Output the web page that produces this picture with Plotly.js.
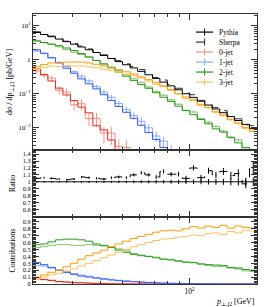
<!DOCTYPE html>
<html><head><meta charset="utf-8">
<script src="https://cdn.plot.ly/plotly-3.0.1.min.js"></script>
<style>html,body{margin:0;padding:0;background:#fff}#chart{width:266px;height:307px}</style>
</head><body><div id="chart"></div>
<script>
// ---- data ----
const binEdges = [20.0, 21.6, 23.3, 25.2, 27.2, 29.4, 31.7, 34.2, 37.0, 39.9, 43.1, 46.5, 50.2, 54.3, 58.6, 63.2, 68.3, 73.7, 79.6, 86.0, 92.8, 100.2, 108.2, 116.9, 126.2, 136.3, 147.1, 158.9, 171.5, 185.2, 200.0];
const pythiaTotal = [6.4, 5.6, 4.8, 4.1, 3.45, 2.9, 2.4, 1.98, 1.65, 1.35, 1.1, 0.89, 0.72, 0.58, 0.46, 0.365, 0.285, 0.222, 0.172, 0.132, 0.101, 0.079, 0.061, 0.047, 0.036, 0.028, 0.0215, 0.0165, 0.0127, 0.0097];
const sherpaOverPythia = [1.05, 1.06, 1.05, 1.04, 1.03, 1.04, 1.07, 1.06, 1.05, 1.04, 1.06, 1.07, 1.06, 1.10, 1.13, 1.10, 1.07, 1.15, 1.11, 1.11, 1.05, 1.20, 1.06, 1.16, 1.10, 1.15, 1.09, 1.12, 0.97, 1.20];
const pythiaRatioErr = [0.01, 0.01, 0.01, 0.01, 0.01, 0.012, 0.012, 0.013, 0.014, 0.015, 0.016, 0.017, 0.018, 0.02, 0.02, 0.022, 0.024, 0.026, 0.028, 0.03, 0.032, 0.034, 0.036, 0.04, 0.042, 0.045, 0.05, 0.055, 0.06, 0.065];
const sherpaRatioErr = [0.012, 0.012, 0.012, 0.012, 0.012, 0.013, 0.014, 0.015, 0.016, 0.017, 0.018, 0.019, 0.02, 0.022, 0.024, 0.025, 0.027, 0.03, 0.032, 0.034, 0.036, 0.038, 0.04, 0.044, 0.047, 0.05, 0.055, 0.06, 0.065, 0.1];
// jet-multiplicity fractions (Contributions panel); A = Pythia, B = Sherpa
const frac0jetA = [0.085, 0.066, 0.05, 0.036, 0.027, 0.022, 0.017, 0.014, 0.007, 0.0065, 0.004, 0.0025, 0.0012, 0.0018, 0.0007, 0.0004, 0, 0, 0, 0, 0, 0, 0, 0, 0, 0, 0, 0, 0, 0];
const frac0jetB = [0.07, 0.06, 0.058, 0.03, 0.032, 0.016, 0.02, 0.009, 0.011, 0.005, 0.006, 0.003, 0.0035, 0.0015, 0.002, 0.0008, 0.0005, 0, 0, 0, 0, 0, 0, 0, 0, 0, 0, 0, 0, 0];
const frac1jetA = [0.31, 0.28, 0.24, 0.2, 0.165, 0.14, 0.115, 0.1, 0.085, 0.07, 0.058, 0.048, 0.04, 0.033, 0.026, 0.02, 0.016, 0.012, 0.0095, 0.007, 0.0055, 0.004, 0.003, 0.0024, 0.0018, 0.0013, 0.001, 0.0008, 0.0006, 0.0005];
const frac1jetB = [0.27, 0.26, 0.23, 0.2, 0.18, 0.15, 0.13, 0.115, 0.095, 0.08, 0.068, 0.055, 0.046, 0.036, 0.03, 0.025, 0.019, 0.016, 0.012, 0.0095, 0.007, 0.006, 0.004, 0.0035, 0.0025, 0.002, 0.0014, 0.0012, 0.0008, 0.0007];
const frac2jetA = [0.57, 0.58, 0.61, 0.64, 0.65, 0.65, 0.64, 0.62, 0.58, 0.56, 0.53, 0.49, 0.46, 0.43, 0.41, 0.40, 0.38, 0.36, 0.35, 0.33, 0.32, 0.31, 0.29, 0.28, 0.26, 0.27, 0.24, 0.22, 0.21, 0.20];
const frac2jetB = [0.53, 0.54, 0.56, 0.57, 0.57, 0.56, 0.56, 0.57, 0.56, 0.55, 0.53, 0.51, 0.48, 0.44, 0.42, 0.40, 0.39, 0.36, 0.35, 0.34, 0.31, 0.31, 0.29, 0.27, 0.28, 0.25, 0.23, 0.24, 0.19, 0.18];
const frac3jetA = [0.10, 0.13, 0.17, 0.20, 0.25, 0.30, 0.36, 0.41, 0.45, 0.49, 0.54, 0.58, 0.62, 0.66, 0.69, 0.72, 0.75, 0.77, 0.78, 0.77, 0.80, 0.83, 0.81, 0.84, 0.82, 0.85, 0.81, 0.84, 0.82, 0.81];
const frac3jetB = [0.08, 0.10, 0.13, 0.15, 0.19, 0.22, 0.26, 0.30, 0.34, 0.38, 0.42, 0.46, 0.50, 0.54, 0.57, 0.60, 0.63, 0.65, 0.66, 0.68, 0.69, 0.71, 0.70, 0.73, 0.74, 0.72, 0.76, 0.74, 0.78, 0.77];
const relErr0jetB = [0.15, 0.18, 0.2, 0.25, 0.28, 0.32, 0.36, 0.4, 0.45, 0.5, 0.55, 0.6, 0.6, 0.65, 0.65, 0.7, 0.7, 0, 0, 0, 0, 0, 0, 0, 0, 0, 0, 0, 0, 0];
const relErr1jetB = [0.05, 0.06, 0.07, 0.08, 0.09, 0.1, 0.11, 0.12, 0.14, 0.16, 0.18, 0.2, 0.22, 0.25, 0.28, 0.3, 0.33, 0.36, 0.4, 0.45, 0.5, 0.5, 0.55, 0.55, 0.6, 0.6, 0.6, 0.6, 0.6, 0.6];
const relErr2jetB = [0.02, 0.02, 0.02, 0.02, 0.02, 0.02, 0.02, 0.02, 0.02, 0.03, 0.03, 0.03, 0.03, 0.04, 0.04, 0.04, 0.05, 0.05, 0.05, 0.06, 0.06, 0.07, 0.07, 0.08, 0.08, 0.09, 0.1, 0.1, 0.12, 0.12];
const legendNames = ['Pythia', 'Sherpa', '0-jet', '1-jet', '2-jet', '3-jet'];

// ---- styles ----
const FONT = "Liberation Serif, DejaVu Serif, serif";
const col = {
  r: ['#e8291c', '#f7907f'], b: ['#2f5cf5', '#8aa8ff'],
  g: ['#2a9a1a', '#7cc66c'], o: ['#ff9a00', '#ffc060']
};
const legendStyles = [['#000', 'solid'], ['#333', 'dash'], [col.r[1], 'solid'], [col.b[1], 'solid'], [col.g[0], 'solid'], [col.o[1], 'solid']];

// ---- helpers ----
const n = pythiaTotal.length;
const centers = binEdges.slice(0, n).map((e, i) => Math.sqrt(e * binEdges[i + 1]));
const sherpaTotal = pythiaTotal.map((v, i) => v * sherpaOverPythia[i]);
function stepY(vals) { return vals.concat([vals[vals.length - 1]]); }
function nz(v) { return v > 0 ? v : null; }
function step(vals, xa, ya, color, dash) {
  return {x: binEdges, y: stepY(vals), xaxis: xa, yaxis: ya, type: 'scatter', mode: 'lines',
    line: {shape: 'hv', color: color, width: 1, dash: dash || 'solid'},
    showlegend: false, hoverinfo: 'skip', connectgaps: false};
}
function errs(vals, errAbs, xa, ya, color) {
  return {x: centers, y: vals, xaxis: xa, yaxis: ya, type: 'scatter', mode: 'markers',
    marker: {size: 1, color: color}, showlegend: false, hoverinfo: 'skip',
    error_y: {type: 'data', array: errAbs, visible: true, color: color, thickness: 1, width: 0}};
}

const jets = [
  [frac0jetA, frac0jetB, col.r, relErr0jetB],
  [frac1jetA, frac1jetB, col.b, relErr1jetB],
  [frac2jetA, frac2jetB, col.g, relErr2jetB],
  [frac3jetA, frac3jetB, col.o, relErr2jetB]
];

const traces = [];
// main panel
jets.forEach(([fA, fB, c, rel]) => {
  const vA = fA.map((f, i) => nz(f * pythiaTotal[i]));
  const vB = fB.map((f, i) => nz(f * sherpaTotal[i]));
  traces.push(step(vB, 'x', 'y', c[1]));
  traces.push(errs(vB, vB.map((v, i) => v == null ? 0 : v * rel[i]), 'x', 'y', c[1]));
  traces.push(step(vA, 'x', 'y', c[0]));
});
traces.push(step(sherpaTotal, 'x', 'y', '#333', 'dash'));
traces.push(step(pythiaTotal, 'x', 'y', '#000'));
// ratio panel
const ones = pythiaTotal.map(() => 1);
traces.push(step(ones, 'x2', 'y2', '#000'));
traces.push(errs(ones, pythiaRatioErr, 'x2', 'y2', '#000'));
traces.push(step(sherpaOverPythia, 'x2', 'y2', '#000', 'dash'));
traces.push(errs(sherpaOverPythia, sherpaRatioErr, 'x2', 'y2', '#000'));
// contributions panel
jets.forEach(([fA, fB, c]) => {
  traces.push(step(fB, 'x3', 'y3', c[1]));
  traces.push(step(fA, 'x3', 'y3', c[0]));
});

// ---- custom legend (paper coordinates) ----
const shapes = [], annotations = [];
const legTop = 0.933, legStep = 0.037, lx0 = 0.728, lx1 = 0.804, ltx = 0.822;
legendNames.forEach((name, k) => {
  const yy = legTop - k * legStep;
  const [c, d] = legendStyles[k];
  shapes.push({type: 'line', xref: 'paper', yref: 'paper', x0: lx0, x1: lx1, y0: yy, y1: yy, line: {color: c, width: 1.2, dash: d === 'dash' ? 'dash' : 'solid'}});
  shapes.push({type: 'line', xref: 'paper', yref: 'paper', x0: (lx0 + lx1) / 2, x1: (lx0 + lx1) / 2, y0: yy - 0.013, y1: yy + 0.013, line: {color: c, width: 1}});
  annotations.push({xref: 'paper', yref: 'paper', x: ltx, y: yy, xanchor: 'left', yanchor: 'middle', showarrow: false,
    text: name, font: {family: FONT, size: 7.5, color: '#000'}});
});
annotations.push({xref: 'paper', yref: 'paper', x: 1, y: -0.068, xanchor: 'right', yanchor: 'middle', showarrow: false,
  text: '<i>p</i><sub>⊥,j2</sub> [GeV]', font: {family: FONT, size: 8}});

const xMinor = [30, 40, 50, 60, 70, 80, 90, 200];
const xBase = {type: 'log', range: [Math.log10(20), Math.log10(200)], showline: true, linecolor: '#333', linewidth: 1,
  mirror: 'ticks', ticks: 'inside', ticklen: 6, tickcolor: '#333', tickmode: 'array', tickvals: [100],
  minor: {tickmode: 'array', tickvals: xMinor, ticks: 'inside', ticklen: 3, tickcolor: '#333'},
  showgrid: false, zeroline: false, tickfont: {family: FONT, size: 7.5, color: '#000'}};
const yMainMinor = [];
[0.001, 0.01, 0.1, 1, 10].forEach(d => { for (let m = 2; m <= 9; m++) yMainMinor.push(d * m); });
const ratioMinor = [], contMinor = [];
for (let v = 0.50; v <= 1.46; v += 0.02) ratioMinor.push(+v.toFixed(2));
for (let v = 0.0; v <= 0.97; v += 0.02) contMinor.push(+v.toFixed(2));
const yBase = {showline: true, linecolor: '#333', linewidth: 1, mirror: 'ticks', ticks: 'inside', ticklen: 6,
  tickcolor: '#333', showgrid: false, zeroline: false, tickmode: 'array',
  tickfont: {family: FONT, size: 6.3, color: '#000'}};

const layout = {
  width: 266, height: 307, margin: {l: 33, r: 9, t: 14, b: 23},
  paper_bgcolor: '#fff', plot_bgcolor: '#fff', font: {family: FONT, color: '#000'},
  showlegend: false, shapes: shapes, annotations: annotations,
  xaxis: Object.assign({}, xBase, {anchor: 'y', domain: [0, 1], showticklabels: false}),
  xaxis2: Object.assign({}, xBase, {anchor: 'y2', domain: [0, 1], showticklabels: false, matches: 'x'}),
  xaxis3: Object.assign({}, xBase, {anchor: 'y3', domain: [0, 1], showticklabels: true, matches: 'x',
    ticktext: ['10<sup>2</sup>']}),
  yaxis: Object.assign({}, yBase, {domain: [0.4963, 1], type: 'log', range: [-2.65, 1.35],
    tickvals: [0.01, 0.1, 1, 10], ticktext: ['10<sup>−2</sup>', '10<sup>−1</sup>', '1', '10<sup>1</sup>'],
    tickfont: {family: FONT, size: 7, color: '#000'},
    minor: {tickmode: 'array', tickvals: yMainMinor, ticks: 'inside', ticklen: 3, tickcolor: '#333'},
    title: {text: 'dσ / dp<sub>⊥,j2</sub> [pb/GeV]', font: {family: FONT, size: 8}, standoff: 4}}),
  yaxis2: Object.assign({}, yBase, {domain: [0.248, 0.4963], range: [0.49, 1.46],
    tickvals: [0.6, 0.7, 0.8, 0.9, 1, 1.1, 1.2, 1.3, 1.4], ticktext: ['0.6', '0.7', '0.8', '0.9', '1', '1.1', '1.2', '1.3', '1.4'],
    minor: {tickmode: 'array', tickvals: ratioMinor, ticks: 'inside', ticklen: 3, tickcolor: '#333'},
    title: {text: 'Ratio', font: {family: FONT, size: 8}, standoff: 6}}),
  yaxis3: Object.assign({}, yBase, {domain: [0, 0.248], range: [0, 0.97],
    tickvals: [0, 0.1, 0.2, 0.3, 0.4, 0.5, 0.6, 0.7, 0.8, 0.9], ticktext: ['0', '0.1', '0.2', '0.3', '0.4', '0.5', '0.6', '0.7', '0.8', '0.9'],
    minor: {tickmode: 'array', tickvals: contMinor, ticks: 'inside', ticklen: 3, tickcolor: '#333'},
    title: {text: 'Contributions', font: {family: FONT, size: 8}, standoff: 6}})
};

Plotly.newPlot('chart', traces, layout, {staticPlot: true, displayModeBar: false});
</script>
</body></html>
